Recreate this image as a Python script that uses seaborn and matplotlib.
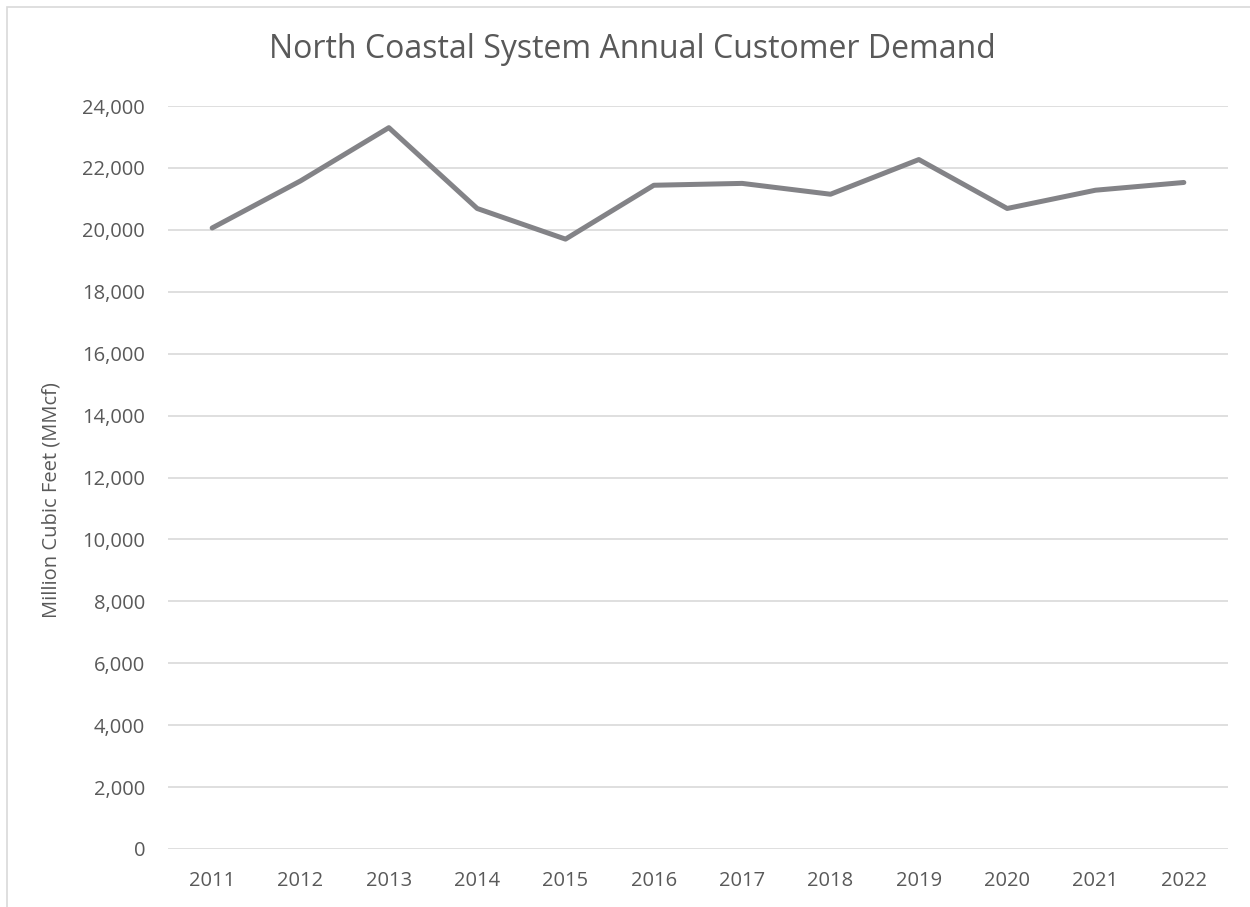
import matplotlib
matplotlib.use('Agg')
import matplotlib.pyplot as plt
import seaborn as sns
import pandas as pd
from matplotlib.patches import Rectangle
from matplotlib.ticker import FuncFormatter

years = ['2011', '2012', '2013', '2014', '2015', '2016',
         '2017', '2018', '2019', '2020', '2021', '2022']
demand = [20060, 21580, 23300, 20690, 19700, 21440,
          21500, 21150, 22270, 20690, 21280, 21530]

df = pd.DataFrame({'year': years, 'demand': demand})

sns.set_theme(style='white')
plt.rcParams['font.family'] = ['Open Sans', 'DejaVu Sans']

text_col = '#595959'
fig = plt.figure(figsize=(12.5, 9.07), dpi=100)
ax = fig.add_axes([168 / 1250, 1 - 849 / 907, (1228 - 168) / 1250, (849 - 106) / 907])

sns.lineplot(data=df, x='year', y='demand', ax=ax, color='#838387',
             linewidth=3.6, sort=False)

ax.set_ylim(0, 24000)
ax.set_xlim(-0.5, len(years) - 0.5)
ax.set_yticks(range(0, 24001, 2000))
ax.yaxis.set_major_formatter(FuncFormatter(lambda v, p: f'{int(v):,}'))
ax.grid(axis='y', color='#d9d9d9', linewidth=1.2)
ax.grid(axis='x', visible=False)
ax.set_axisbelow(True)
for s in ax.spines.values():
    s.set_visible(False)
ax.tick_params(axis='both', length=0, labelsize=14.5, colors=text_col)
ax.tick_params(axis='x', pad=16)
ax.tick_params(axis='y', pad=16.5)
ax.set_xlabel('')
ax.set_ylabel('Million Cubic Feet (MMcf)', fontsize=14.5, color=text_col)
ax.yaxis.set_label_coords(-0.1, 0.47)
fig.text(632 / 1250, 1 - 50 / 907, 'North Coastal System Annual Customer Demand',
         ha='center', va='center', fontsize=23, color=text_col)

fig.patches.append(Rectangle((7 / 1250, -0.1), 1.2, 1 - 7 / 907 + 0.1,
                             transform=fig.transFigure, fill=False,
                             edgecolor='#d9d9d9', linewidth=1.2))

fig.savefig('out.png', dpi=100, facecolor='white')
